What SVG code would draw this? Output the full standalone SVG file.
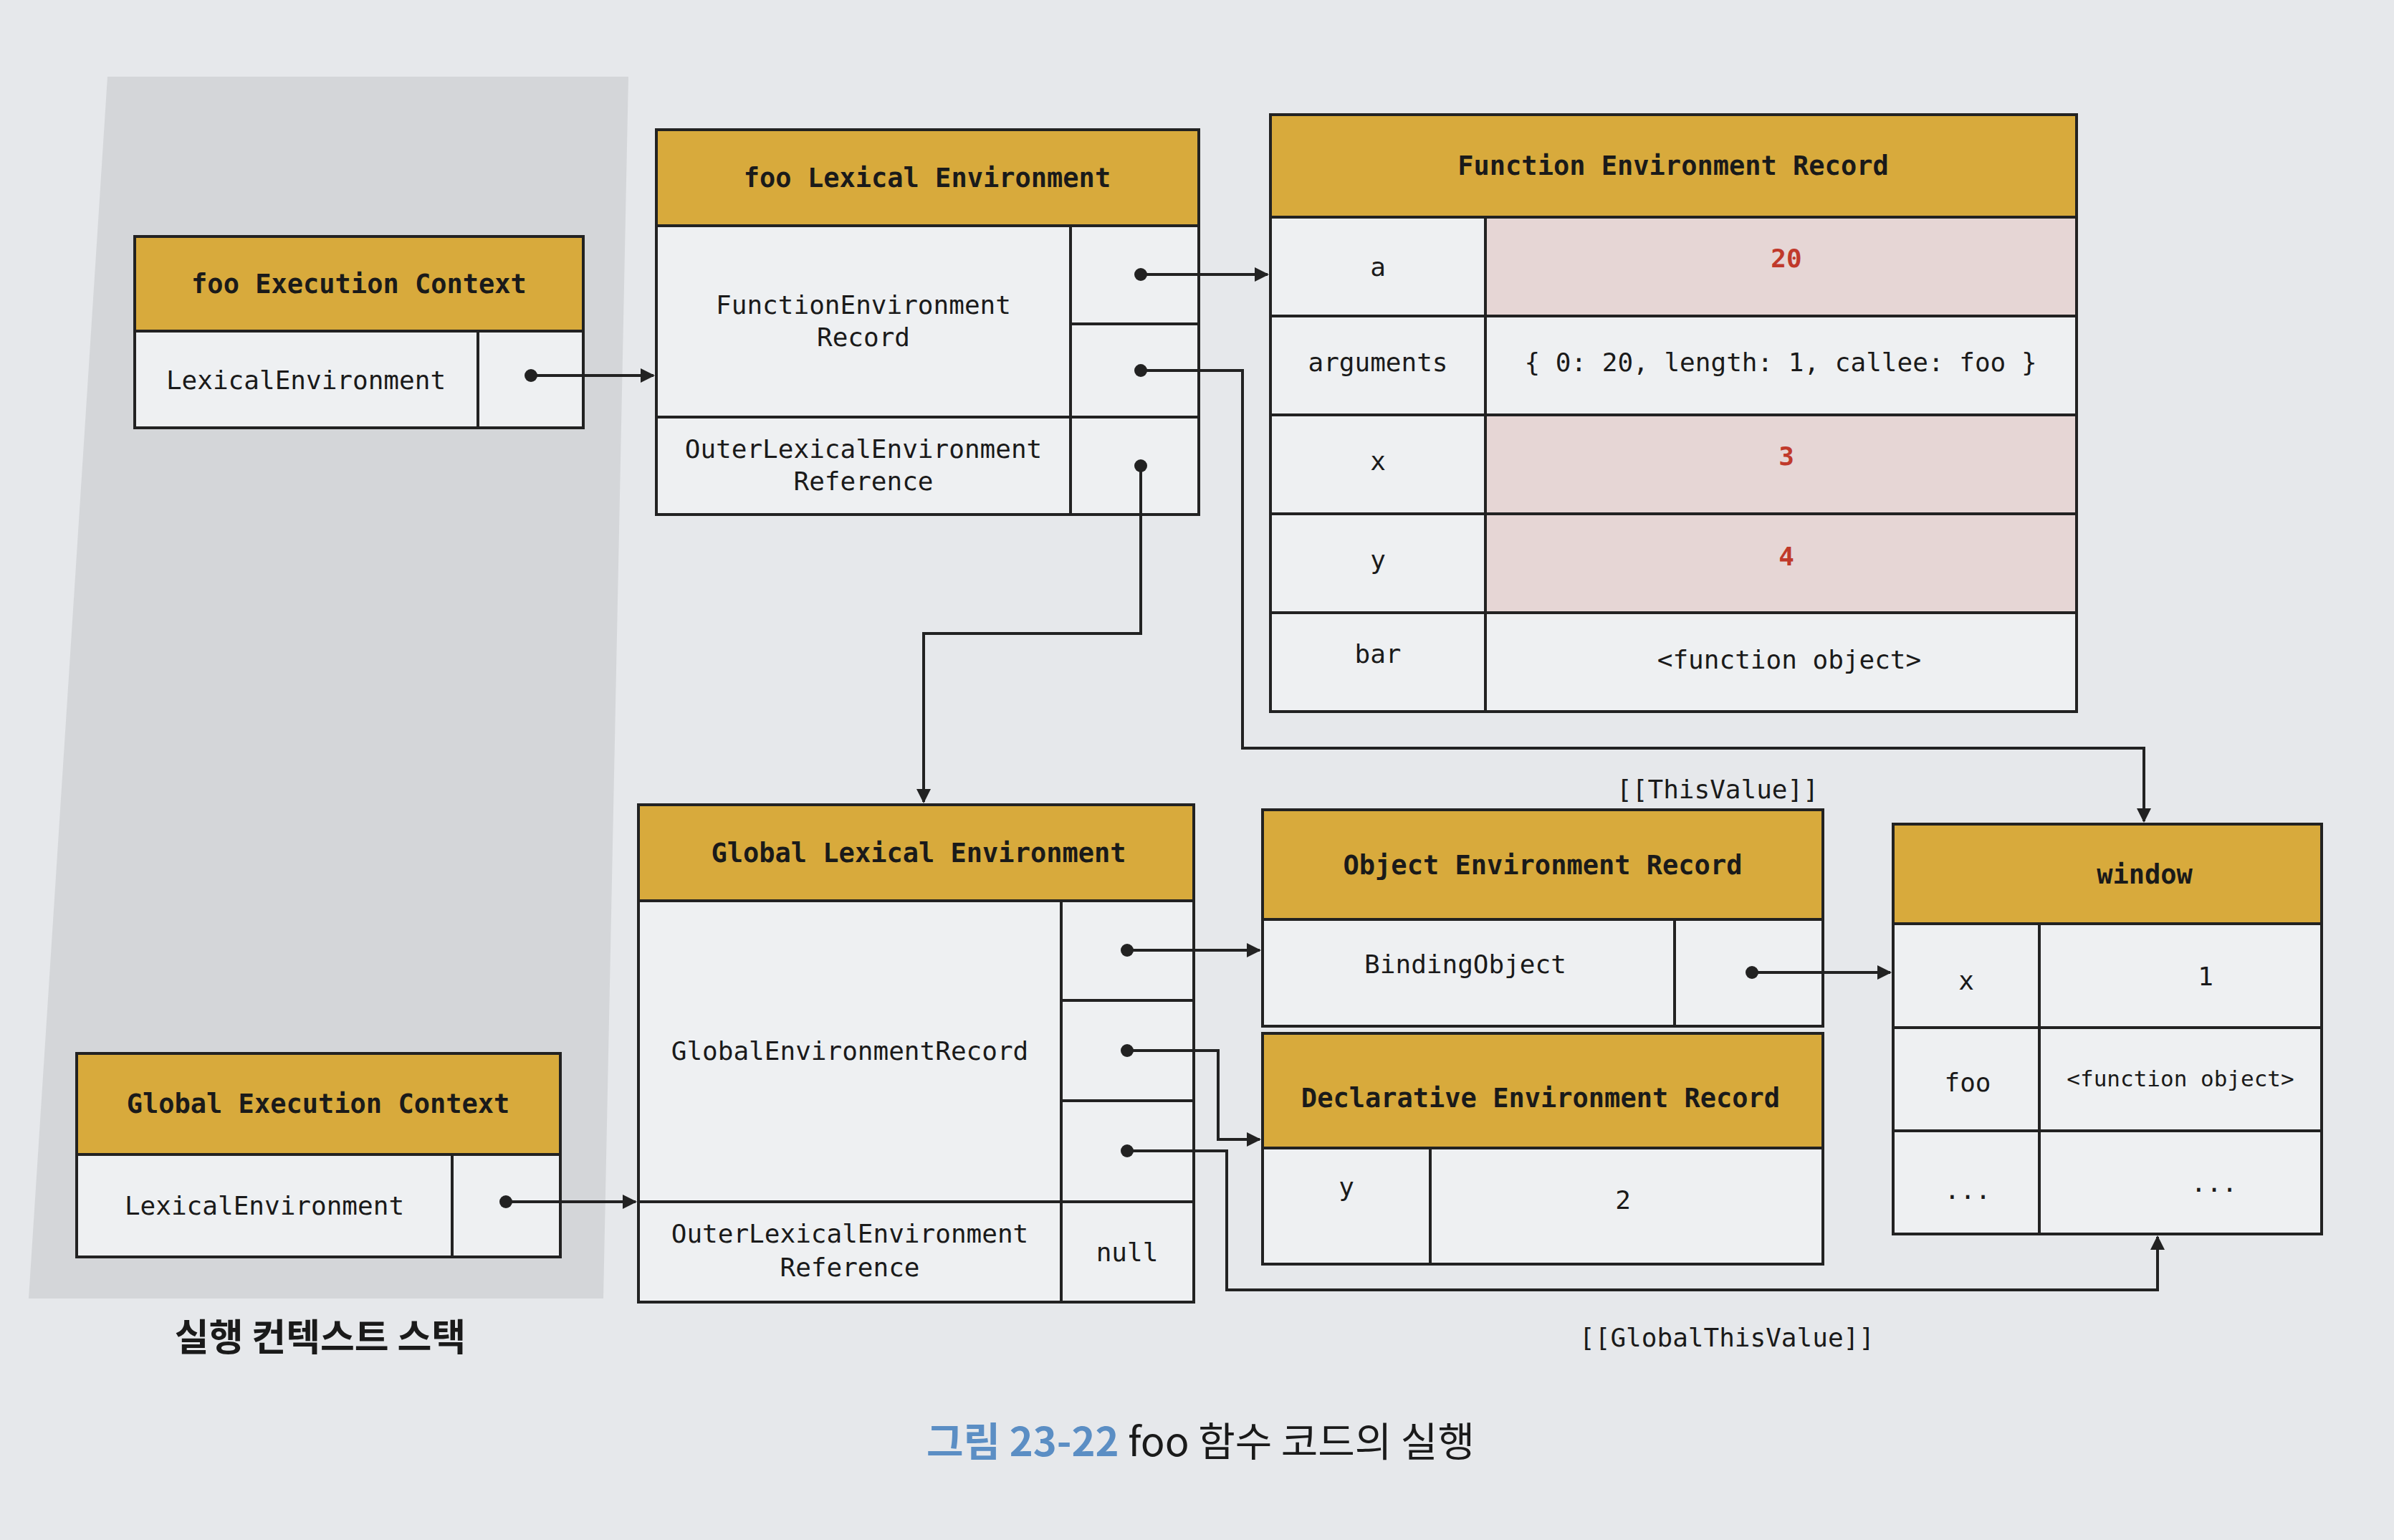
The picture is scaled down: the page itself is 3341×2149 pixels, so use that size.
<svg xmlns="http://www.w3.org/2000/svg" width="3341" height="2149" viewBox="0 0 3341 2149">
<defs>
<marker id="arrow" viewBox="0 0 10 10" refX="9" refY="5" markerWidth="5" markerHeight="5" orient="auto" markerUnits="strokeWidth">
<path d="M0,0 L10,5 L0,10 z" fill="#222"/>
</marker>
<marker id="dot" viewBox="0 0 10 10" refX="5" refY="5" markerWidth="4.5" markerHeight="4.5" markerUnits="strokeWidth">
<circle cx="5" cy="5" r="5" fill="#222"/>
</marker>
</defs>
<style>
.box{fill:#eef0f2;stroke:#222;stroke-width:4}
.hdr{fill:#d8aa3c;stroke:#222;stroke-width:4}
.pink{fill:#e6d6d5;stroke:#222;stroke-width:4}
.ln{stroke:#222;stroke-width:4;fill:none}
.t{font-family:"DejaVu Sans Mono","Liberation Mono",monospace;font-size:36px;fill:#1a1a1a;text-anchor:middle;dominant-baseline:central}
.h{font-family:"DejaVu Sans Mono","Liberation Mono",monospace;font-size:37px;font-weight:bold;fill:#1a1a1a;text-anchor:middle;dominant-baseline:central}
.v{font-family:"DejaVu Sans Mono","Liberation Mono",monospace;font-size:36px;font-weight:bold;fill:#c0392b;text-anchor:middle;dominant-baseline:central}
.c{stroke:#222;stroke-width:4;fill:none;marker-start:url(#dot);marker-end:url(#arrow)}
</style>
<rect x="0" y="0" width="3341" height="2149" fill="#e6e8eb"/>
<polygon points="150,107 877,107 842,1812 40,1812" fill="#d4d6d9"/>

<g id="foo-execution-context">
<rect class="box" x="188" y="330" width="626" height="267"/>
<rect class="hdr" x="188" y="330" width="626" height="132"/>
<line class="ln" x1="667" y1="462" x2="667" y2="597"/>
<text class="h" x="501" y="396">foo Execution Context</text>
<text class="t" x="427" y="530">LexicalEnvironment</text>
</g>

<g id="foo-lexical-environment">
<rect class="box" x="916" y="181" width="757" height="537"/>
<rect class="hdr" x="916" y="181" width="757" height="134"/>
<line class="ln" x1="1494" y1="315" x2="1494" y2="718"/>
<line class="ln" x1="1494" y1="452" x2="1673" y2="452"/>
<line class="ln" x1="916" y1="582" x2="1673" y2="582"/>
<text class="h" x="1294" y="248">foo Lexical Environment</text>
<text class="t" x="1205" y="425">FunctionEnvironment</text>
<text class="t" x="1205" y="470">Record</text>
<text class="t" x="1205" y="626">OuterLexicalEnvironment</text>
<text class="t" x="1205" y="671">Reference</text>
</g>

<g id="function-environment-record">
<rect class="box" x="1773" y="160" width="1125" height="833"/>
<rect class="hdr" x="1773" y="160" width="1125" height="143"/>
<rect class="pink" x="2073" y="303" width="825" height="138"/>
<rect class="pink" x="2073" y="579" width="825" height="138"/>
<rect class="pink" x="2073" y="717" width="825" height="138"/>
<line class="ln" x1="2073" y1="303" x2="2073" y2="993"/>
<line class="ln" x1="1773" y1="441" x2="2898" y2="441"/>
<line class="ln" x1="1773" y1="579" x2="2898" y2="579"/>
<line class="ln" x1="1773" y1="717" x2="2898" y2="717"/>
<line class="ln" x1="1773" y1="855" x2="2898" y2="855"/>
<text class="h" x="2335" y="231">Function Environment Record</text>
<text class="t" x="1923" y="372">a</text>
<text class="v" x="2493" y="360">20</text>
<text class="t" x="1923" y="505">arguments</text>
<text class="t" x="2485" y="505">{ 0: 20, length: 1, callee: foo }</text>
<text class="t" x="1923" y="643">x</text>
<text class="v" x="2493" y="636">3</text>
<text class="t" x="1923" y="781">y</text>
<text class="v" x="2493" y="776">4</text>
<text class="t" x="1923" y="912">bar</text>
<text class="t" x="2497" y="920">&lt;function object&gt;</text>
</g>

<g id="global-lexical-environment">
<rect class="box" x="891" y="1123" width="775" height="694"/>
<rect class="hdr" x="891" y="1123" width="775" height="134"/>
<line class="ln" x1="1481" y1="1257" x2="1481" y2="1817"/>
<line class="ln" x1="1481" y1="1396" x2="1666" y2="1396"/>
<line class="ln" x1="1481" y1="1536" x2="1666" y2="1536"/>
<line class="ln" x1="891" y1="1677" x2="1666" y2="1677"/>
<text class="h" x="1282" y="1190">Global Lexical Environment</text>
<text class="t" x="1186" y="1466">GlobalEnvironmentRecord</text>
<text class="t" x="1186" y="1721">OuterLexicalEnvironment</text>
<text class="t" x="1186" y="1768">Reference</text>
<text class="t" x="1573" y="1747">null</text>
</g>

<g id="global-execution-context">
<rect class="box" x="107" y="1470" width="675" height="284"/>
<rect class="hdr" x="107" y="1470" width="675" height="141"/>
<line class="ln" x1="631" y1="1611" x2="631" y2="1754"/>
<text class="h" x="444" y="1540">Global Execution Context</text>
<text class="t" x="369" y="1682">LexicalEnvironment</text>
</g>

<g id="object-environment-record">
<rect class="box" x="1762" y="1130" width="782" height="302"/>
<rect class="hdr" x="1762" y="1130" width="782" height="153"/>
<line class="ln" x1="2337" y1="1283" x2="2337" y2="1432"/>
<text class="h" x="2153" y="1207">Object Environment Record</text>
<text class="t" x="2045" y="1345">BindingObject</text>
</g>

<g id="declarative-environment-record">
<rect class="box" x="1762" y="1442" width="782" height="322"/>
<rect class="hdr" x="1762" y="1442" width="782" height="160"/>
<line class="ln" x1="1996" y1="1602" x2="1996" y2="1764"/>
<text class="h" x="2150" y="1532">Declarative Environment Record</text>
<text class="t" x="1879" y="1656">y</text>
<text class="t" x="2265" y="1674">2</text>
</g>

<g id="window">
<rect class="box" x="2642" y="1150" width="598" height="572"/>
<rect class="hdr" x="2642" y="1150" width="598" height="139"/>
<line class="ln" x1="2846" y1="1289" x2="2846" y2="1722"/>
<line class="ln" x1="2642" y1="1434" x2="3240" y2="1434"/>
<line class="ln" x1="2642" y1="1578" x2="3240" y2="1578"/>
<text class="h" x="2993" y="1220">window</text>
<text class="t" x="2744" y="1368">x</text>
<text class="t" x="3078" y="1362">1</text>
<text class="t" x="2746" y="1510">foo</text>
<text class="t" x="3043" y="1505" style="font-size:31px">&lt;function object&gt;</text>
<text class="t" x="2746" y="1660">...</text>
<text class="t" x="3090" y="1650">...</text>
</g>

<g id="connectors">
<path class="c" d="M741,524 L912,524"/>
<path class="c" d="M1592,383 L1769,383"/>
<path class="c" d="M1592,517 L1734,517 L1734,1044 L2992,1044 L2992,1146"/>
<path class="c" d="M1592,650 L1592,884 L1289,884 L1289,1119"/>
<path class="c" d="M706,1677 L887,1677"/>
<path class="c" d="M1573,1326 L1758,1326"/>
<path class="c" d="M1573,1466 L1700,1466 L1700,1590 L1758,1590"/>
<path class="c" d="M1573,1606 L1712,1606 L1712,1800 L3011,1800 L3011,1726"/>
<path class="c" d="M2445,1357 L2638,1357"/>
<text class="t" x="2397" y="1101">[[ThisValue]]</text>
<text class="t" x="2410" y="1866">[[GlobalThisValue]]</text>
</g>

<text x="447" y="1862" font-family="Noto Sans CJK KR, sans-serif" font-size="52" font-weight="bold" fill="#1a1a1a" text-anchor="middle" dominant-baseline="central">실행 컨텍스트 스택</text>
<text x="1293" y="2032" font-family="Noto Sans CJK KR, sans-serif" font-size="56" fill="#1a1a1a"><tspan fill="#5b8ec4" font-weight="bold">그림 23-22</tspan> foo 함수 코드의 실행</text>
</svg>
